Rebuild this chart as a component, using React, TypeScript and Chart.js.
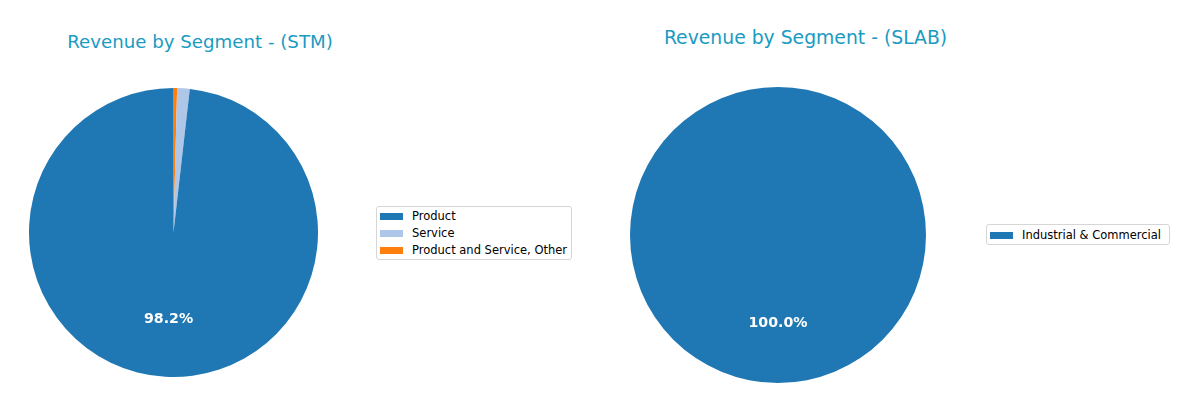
import { useEffect, useRef } from 'react'
import { Chart, ArcElement, PieController } from 'chart.js'
import type { Plugin } from 'chart.js'

Chart.register(ArcElement, PieController)

// STM segments (matplotlib draws counter-clockwise, so we feed Chart.js reversed)
const stmLabels = ['Product', 'Service', 'Product and Service, Other']
const stmValues = [98.2, 1.4, 0.4]
const stmColors = ['#1f77b4', '#aec7e8', '#ff7f0e']

// SLAB segments
const slabLabels = ['Industrial & Commercial']
const slabValues = [100]
const slabColors = ['#1f77b4']

const FONT = '"DejaVu Sans", Verdana, sans-serif'
const TITLE_COLOR = '#1a9bc2'

// percentage text inside the big slices, at 0.6 of the radius
const pctLabels: Plugin<'pie'> = {
    id: 'pctLabels',
    afterDatasetsDraw(chart) {
        const ctx = chart.ctx
        const meta = chart.getDatasetMeta(0)
        const values = chart.data.datasets[0].data as number[]
        const total = values.reduce((s, v) => s + v, 0)
        ctx.save()
        ctx.font = `bold 14.2px ${FONT}`
        ctx.fillStyle = '#ffffff'
        ctx.textAlign = 'center'
        ctx.textBaseline = 'middle'
        meta.data.forEach((el: any, i) => {
            const pct = (values[i] / total) * 100
            if (pct < 5) return
            const { x, y, startAngle, endAngle, outerRadius } = el.getProps(
                ['x', 'y', 'startAngle', 'endAngle', 'outerRadius'], true)
            const mid = (startAngle + endAngle) / 2
            const r = outerRadius * 0.6
            ctx.fillText(pct.toFixed(1) + '%', x + Math.cos(mid) * r, y + Math.sin(mid) * r)
        })
        ctx.restore()
    },
}

type PieProps = {
    labels: string[]
    values: number[]
    colors: string[]
    cx: number
    cy: number
    radius: number
}

function Pie({ labels, values, colors, cx, cy, radius }: PieProps) {
    const canvasRef = useRef<HTMLCanvasElement>(null)
    const size = Math.ceil(radius * 2 + 6)

    useEffect(() => {
        if (!canvasRef.current) return
        const chart = new Chart(canvasRef.current, {
            type: 'pie',
            data: {
                labels: [...labels].reverse(),
                datasets: [{
                    data: [...values].reverse(),
                    backgroundColor: [...colors].reverse(),
                    borderWidth: 0,
                    radius: radius,
                }],
            },
            options: {
                responsive: false,
                animation: false,
                events: [],
                layout: { padding: 0 },
                plugins: { legend: { display: false }, tooltip: { enabled: false } },
            },
            plugins: [pctLabels],
        })
        return () => { chart.destroy() }
    }, [])

    return (
        <canvas
            ref={canvasRef}
            width={size}
            height={size}
            style={{ position: 'absolute', left: cx - size / 2, top: cy - size / 2, width: size, height: size }}
        />
    )
}

type LegendProps = {
    labels: string[]
    colors: string[]
    left: number
    top: number
    width: number
    height: number
    rowTops: number[]
}

function Legend({ labels, colors, left, top, width, height, rowTops }: LegendProps) {
    return (
        <div style={{
            position: 'absolute', left, top, width, height, boxSizing: 'border-box',
            border: '1px solid #d6d6d6', borderRadius: 3, background: '#fff',
        }}>
            {labels.map((l, i) => (
                <div key={l} style={{
                    position: 'absolute', left: 3, top: rowTops[i] - top - 9, height: 17,
                    display: 'flex', alignItems: 'center', whiteSpace: 'nowrap',
                }}>
                    <span style={{ display: 'inline-block', width: 23, height: 7, background: colors[i], marginRight: 9 }} />
                    <span style={{ font: `11.5px ${FONT}`, color: '#000' }}>{l}</span>
                </div>
            ))}
        </div>
    )
}

function Title({ text, cx, cy, size }: { text: string, cx: number, cy: number, size: number }) {
    return (
        <div style={{
            position: 'absolute', left: cx - 300, top: cy - 15, width: 600, height: 30, lineHeight: '30px',
            textAlign: 'center', font: `${size}px ${FONT}`, color: TITLE_COLOR, whiteSpace: 'nowrap',
        }}>
            {text}
        </div>
    )
}

export default function App() {
    return (
        <div style={{ position: 'absolute', left: 0, top: 0, width: 1200, height: 412, background: '#fff', overflow: 'hidden' }}>
            <Title text="Revenue by Segment - (STM)" cx={200} cy={46} size={18.2} />
            <Pie labels={stmLabels} values={stmValues} colors={stmColors} cx={173.5} cy={232.5} radius={144.5} />
            <Legend labels={stmLabels} colors={stmColors} left={376} top={206} width={196} height={54} rowTops={[215.5, 232.5, 249.5]} />

            <Title text="Revenue by Segment - (SLAB)" cx={805.5} cy={42} size={18.8} />
            <Pie labels={slabLabels} values={slabValues} colors={slabColors} cx={778} cy={235} radius={148} />
            <Legend labels={slabLabels} colors={slabColors} left={986} top={224} width={184} height={21} rowTops={[234.5]} />
        </div>
    )
}
